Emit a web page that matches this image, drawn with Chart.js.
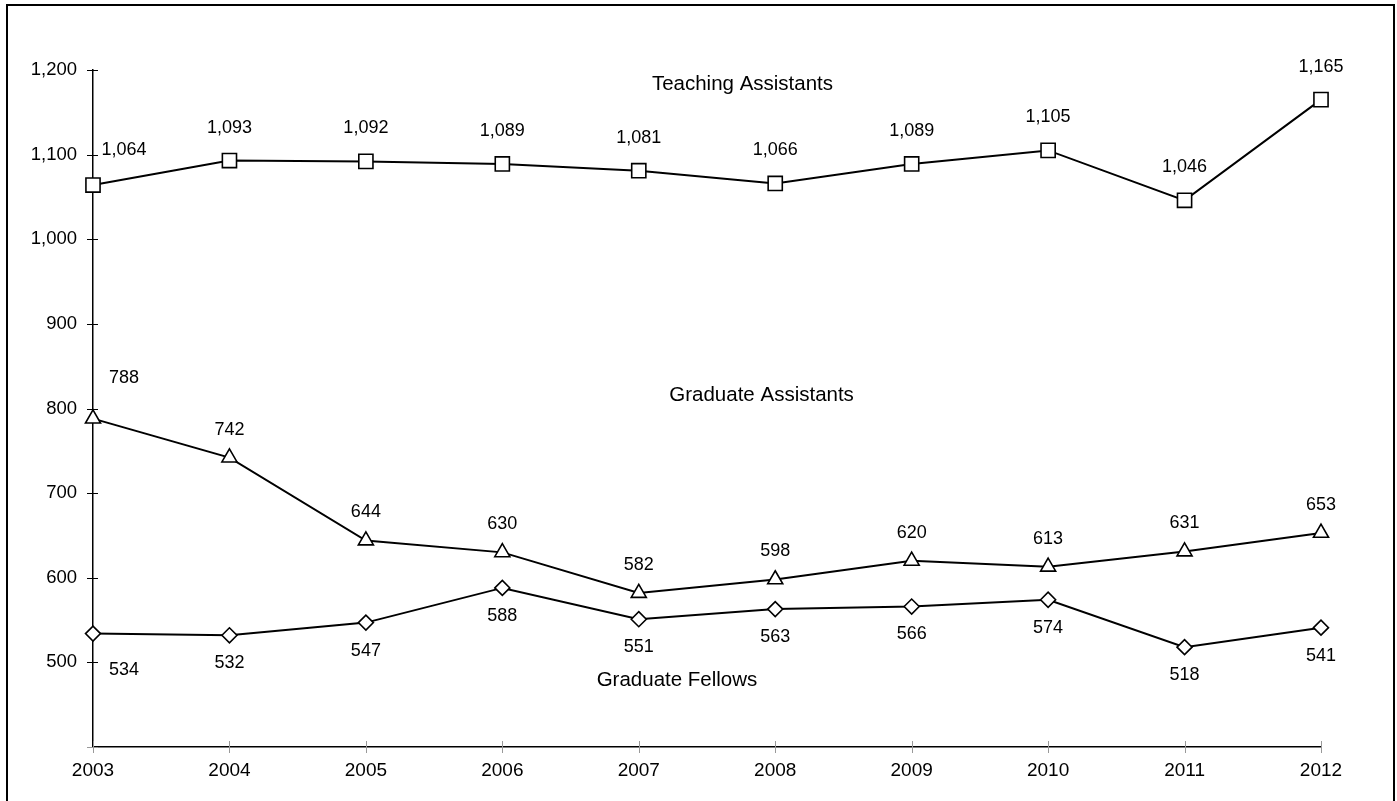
<!DOCTYPE html>
<html>
<head>
<meta charset="utf-8">
<script src="https://cdn.jsdelivr.net/npm/chart.js@4/dist/chart.umd.min.js"></script>
<style>
  html, body { margin: 0; padding: 0; background: #fff; }
  #wrap { position: relative; width: 1397px; height: 801px; overflow: hidden; }
  #frame { position: absolute; left: 6px; top: 4px; width: 1385px; height: 820px;
           border: 2.5px solid #000; pointer-events: none; }
  canvas { position: absolute; left: 0; top: 0; }
</style>
</head>
<body>
<div id="wrap">
  <canvas id="chart" width="1397" height="801"></canvas>
  <div id="frame"></div>
</div>
<script>
// years along the bottom
const years = ['2003', '2004', '2005', '2006', '2007', '2008', '2009', '2010', '2011', '2012'];

// headcounts per series
const teachingAssistants = [1064, 1093, 1092, 1089, 1081, 1066, 1089, 1105, 1046, 1165];
const graduateAssistants = [788, 742, 644, 630, 582, 598, 620, 613, 631, 653];
const graduateFellows = [534, 532, 547, 588, 551, 563, 566, 574, 518, 541];

// y axis ticks
const yTicks = [400, 500, 600, 700, 800, 900, 1000, 1100, 1200];

// series names written inside the plot (x as year index, y as value)
const seriesNames = ['Teaching Assistants', 'Graduate Assistants', 'Graduate Fellows'];
const seriesNameAt = [[4.76, 1183], [4.90, 816], [4.28, 479]];

const FONT = '"Liberation Sans", Arial, sans-serif';

// value labels next to each marker
const valueLabels = {
    id: 'valueLabels',
    afterDatasetsDraw(chart) {
        const ctx = chart.ctx;
        ctx.save();
        ctx.font = '18px ' + FONT;
        ctx.fillStyle = '#000';
        ctx.textAlign = 'center';
        ctx.textBaseline = 'middle';
        chart.data.datasets.forEach((ds, i) => {
            const meta = chart.getDatasetMeta(i);
            meta.data.forEach((pt, j) => {
                let dx = 0, dy = ds.labelDy;
                if (j === 0) { dx = 31; dy += ds.firstExtraDy; }
                ctx.fillText(ds.data[j].toLocaleString('en-US'), pt.x + dx, pt.y + dy);
            });
        });
        // series names
        const xs = chart.scales.x, ys = chart.scales.y;
        ctx.font = '20.5px ' + FONT;
        seriesNames.forEach((name, i) => {
            ctx.fillText(name, xs.getPixelForValue(seriesNameAt[i][0]), ys.getPixelForValue(seriesNameAt[i][1]));
        });
        ctx.restore();
    }
};

// small tick marks crossing both axes
const crossTicks = {
    id: 'crossTicks',
    afterDraw(chart) {
        const ctx = chart.ctx;
        const xs = chart.scales.x, ys = chart.scales.y;
        const a = chart.chartArea;
        ctx.save();
        ctx.lineWidth = 1;
        ys.ticks.forEach(t => {
            const y = Math.round(ys.getPixelForValue(t.value)) + 0.5;
            ctx.strokeStyle = t.value === 400 ? '#999' : '#000';
            ctx.beginPath();
            ctx.moveTo(a.left - 6, y);
            ctx.lineTo(a.left + 5, y);
            ctx.stroke();
        });
        ctx.strokeStyle = '#999';
        years.forEach((yr, i) => {
            const x = Math.round(xs.getPixelForValue(i)) + 0.5;
            ctx.beginPath();
            ctx.moveTo(x, a.bottom - 6);
            ctx.lineTo(x, a.bottom + 6);
            ctx.stroke();
        });
        ctx.restore();
    }
};

function lineSet(label, data, style, radius, labelDy, firstExtraDy) {
    return {
        label: label,
        data: data,
        borderColor: '#000',
        borderWidth: 2,
        backgroundColor: '#fff',
        pointStyle: style,
        pointRadius: radius,
        pointBorderWidth: 1.6,
        pointBorderColor: '#000',
        pointBackgroundColor: '#fff',
        tension: 0,
        labelDy: labelDy,
        firstExtraDy: firstExtraDy
    };
}

new Chart(document.getElementById('chart'), {
    type: 'line',
    data: {
        labels: years,
        datasets: [
            lineSet('Teaching Assistants', teachingAssistants, 'rect', 10, -33, -2),
            lineSet('Graduate Assistants', graduateAssistants, 'triangle', 8.7, -28, -13),
            lineSet('Graduate Fellows', graduateFellows, 'rectRot', 7.5, 28, 8)
        ]
    },
    options: {
        responsive: false,
        animation: false,
        layout: { padding: { left: 0, right: 76, top: 70, bottom: 0 } },
        plugins: {
            legend: { display: false },
            tooltip: { enabled: false }
        },
        scales: {
            x: {
                offset: false,
                grid: { display: false, drawTicks: false, tickLength: 0 },
                border: { display: true, color: '#000', width: 1.5 },
                ticks: {
                    color: '#000',
                    font: { family: FONT, size: 19 },
                    padding: 12,
                    maxRotation: 0,
                    autoSkip: false
                },
                afterFit(scale) { scale.height = 54; }
            },
            y: {
                min: 400,
                max: 1200,
                afterBuildTicks(scale) { scale.ticks = yTicks.map(v => ({ value: v })); },
                grid: { display: false, drawTicks: false, tickLength: 0 },
                border: { display: true, color: '#000', width: 1.5 },
                ticks: {
                    color: '#000',
                    font: { family: FONT, size: 18.5 },
                    padding: 16,
                    callback: v => v === 400 ? '' : v.toLocaleString('en-US')
                },
                afterFit(scale) { scale.width = 93; }
            }
        }
    },
    plugins: [valueLabels, crossTicks]
});
</script>
</body>
</html>
